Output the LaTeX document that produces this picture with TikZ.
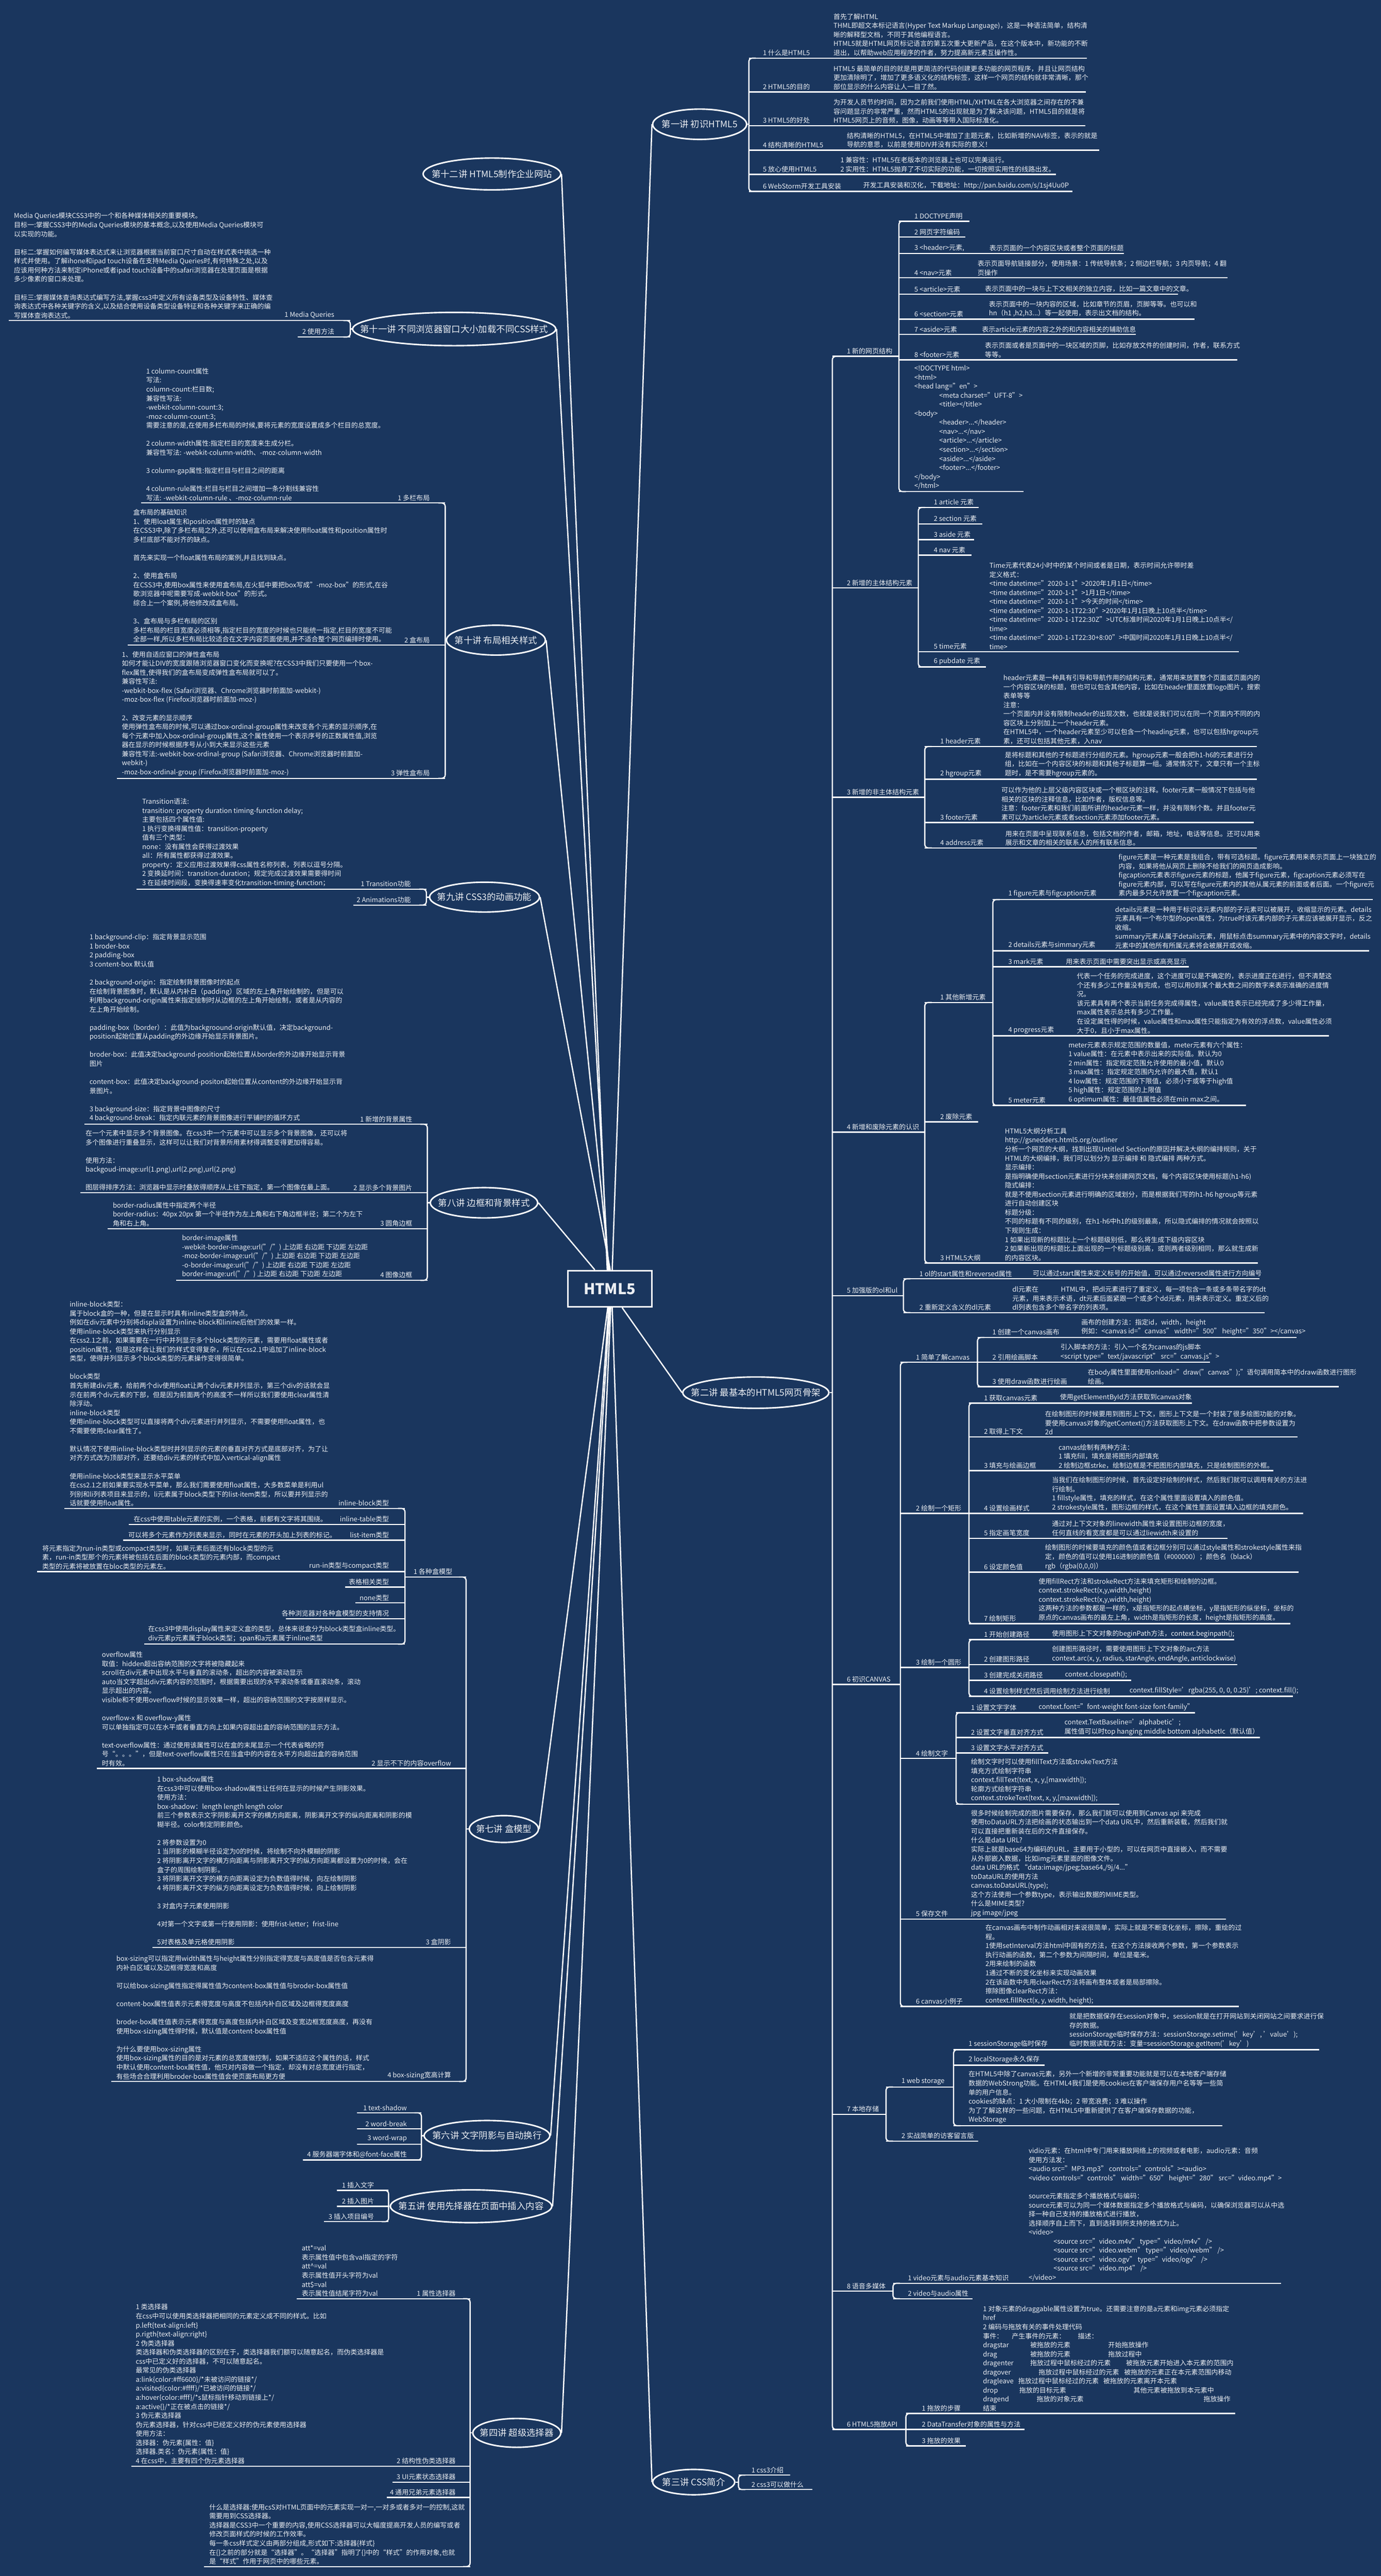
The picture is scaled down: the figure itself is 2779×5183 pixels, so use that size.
\documentclass[tikz,border=0pt]{standalone}
\usepackage{fontspec}
\setmainfont{Noto Sans CJK SC}
\usetikzlibrary{shapes.geometric}
\definecolor{bg}{RGB}{26,54,94}
\definecolor{txt}{RGB}{236,239,243}
\newcommand\fs{\fontsize{13.5}{18.2}\selectfont}
\newcommand\lecf{\fontsize{18}{22}\selectfont}
\newcounter{nid}
\newcommand\RL[5]{\stepcounter{nid}\node[anchor=south west] (n\thenid) at (#3,#2-4) {#4};\draw[ul] (#1,#2) -- (#5,#2);}
\newcommand\LL[5]{\stepcounter{nid}\node[anchor=south east] (n\thenid) at (#3,#2-4) {#4};\draw[ul] (#5,#2) -- (#1,#2);}
\newcommand\DT[3]{\stepcounter{nid}\node[det] (n\thenid) at (#1,#2-4) {#3};}
\newcommand\RB[3]{\draw[ul,rounded corners=7pt] (#1+14,#2) -- (#1,#2) -- (#1,#3) -- (#1+14,#3);}
\newcommand\LB[3]{\draw[ul,rounded corners=7pt] (#1-14,#2) -- (#1,#2) -- (#1,#3) -- (#1-14,#3);}
\newcommand\LEC[6]{\node[lec,minimum width=#4pt,minimum height=#5pt] (#1) at (#2,#3) {};\node[font=\lecf] at (#1) {#6};}
\newcommand\BL{\\[18.2pt]}
\tikzset{
  every node/.style={text=txt,inner sep=0pt,font=\fs},
  det/.style={align=left,anchor=south west},
  ul/.style={draw=white,line width=2.5pt},
  conn/.style={draw=white,line width=2.6pt},
  lec/.style={ellipse,draw=white,line width=3pt},
}
\begin{document}
\begin{tikzpicture}[x=1pt,y=-1pt]
\fill[bg] (0,0) rectangle (2779,5183);
\useasboundingbox (0,0) rectangle (2779,5183);

% centre
\node[draw=white,line width=3pt,minimum width=169pt,minimum height=73pt,font=\bfseries\fontsize{30}{34}\selectfont] (H) at (1227,2593) {HTML5};

% lectures
\LEC{L1}{1408}{250}{189}{61}{第一讲 初识HTML5}
\LEC{L2}{1521}{2802}{294}{63}{第二讲 最基本的HTML5网页骨架}
\LEC{L3}{1396}{4994}{165}{51}{第三讲 CSS简介}
\LEC{L12}{990}{350}{277}{64}{第十二讲 HTML5制作企业网站}
\LEC{L11}{914}{662}{409}{67}{第十一讲 不同浏览器窗口大小加载不同CSS样式}
\LEC{L10}{998}{1288}{199}{60}{第十讲 布局相关样式}
\LEC{L9}{975}{1805}{221}{60}{第九讲 CSS3的动画功能}
\LEC{L8}{974}{2420}{216}{61}{第八讲 边框和背景样式}
\LEC{L7}{1014}{3680}{139}{54}{第七讲 盒模型}
\LEC{L6}{980}{4297}{253}{61}{第六讲 文字阴影与自动换行}
\LEC{L5}{948}{4439}{325}{66}{第五讲 使用先择器在页面中插入内容}
\LEC{L4}{1040}{4895}{177}{58}{第四讲 超级选择器}

% main connectors
\draw[conn] ([xshift=-5pt]H.north) -- (L12.east);
\draw[conn] ([xshift=-3pt]H.north) -- (L11.east);
\draw[conn] ([xshift=-1pt]H.north) -- (L10.east);
\draw[conn] ([xshift=1pt]H.north) -- (L9.east);
\draw[conn] ([xshift=-30pt]H.north) -- (L8.east);
\draw[conn] ([xshift=5pt]H.north) -- (L1.west);
\draw[conn] ([xshift=25pt]H.south) -- (L2.west);
\draw[conn] ([xshift=-4pt]H.south) -- (L7.east);
\draw[conn] ([xshift=-2pt]H.south) -- (L6.east);
\draw[conn] ([xshift=0pt]H.south) -- (L5.east);
\draw[conn] ([xshift=2pt]H.south) -- (L4.east);
\draw[conn] ([xshift=5pt]H.south) -- (L3.west);

%================ 第一讲
\RB{1507}{117}{385}
\draw[ul] (L1.east) -- (1507,250);
\RL{1507}{117}{1535}{1 什么是HTML5}{2187}
\DT{1677}{117}{首先了解HTML\\THML即超文本标记语言(Hyper Text Markup Language)，这是一种语法简单，结构清\\晰的解释型文档，不同于其他编程语言。\\HTML5就是HTML网页标记语言的第五次重大更新产品，在这个版本中，新功能的不断\\退出，以帮助web应用程序的作者，努力提高新元素互操作性。}
\RL{1507}{185}{1535}{2 HTML5的目的}{2185}
\DT{1677}{185}{HTML5 最简单的目的就是用更简洁的代码创建更多功能的网页程序，并且让网页结构\\更加清除明了，增加了更多语义化的结构标签，这样一个网页的结构就非常清晰，那个\\部位显示的什么内容让人一目了然。}
\RL{1507}{253}{1535}{3 HTML5的好处}{2184}
\DT{1677}{253}{为开发人员节约时间，因为之前我们使用HTML/XHTML在各大浏览器之间存在的不兼\\容问题显示的非常严重，然而HTML5的出现就是为了解决该问题，HTML5目的就是将\\HTML5网页上的音频，图像，动画等等带入国际标准化。}
\RL{1507}{302}{1535}{4 结构清晰的HTML5}{2212}
\DT{1704}{302}{结构清晰的HTML5，在HTML5中增加了主题元素，比如新增的NAV标签，表示的就是\\导航的意思，以前是使用DIV并没有实际的意义！}
\RL{1507}{351}{1535}{5 放心使用HTML5}{2125}
\DT{1691}{351}{1 兼容性：HTML5在老版本的浏览器上也可以完美运行。\\2 实用性：HTML5抛弃了不切实际的功能，一切按照实用性的线路出发。}
\RL{1507}{385}{1535}{6 WebStorm开发工具安装}{2158}
\DT{1737}{385}{开发工具安装和汉化，下载地址：http://pan.baidu.com/s/1sj4Uu0P}

%================ 第二讲
\RB{1675}{717}{4888}
\draw[ul] (L2.east) -- (1675,2802);
% 1
\RL{1675}{717}{1704}{1 新的网页结构}{1809}
\RB{1809}{445}{989}
\RL{1809}{445}{1840}{1 DOCTYPE声明}{1951}
\RL{1809}{477}{1840}{2 网页字符编码}{1943}
\RL{1809}{510}{1840}{3 <header>元素,}{2262}
\DT{1991}{510}{表示页面的一个内容区块或者整个页面的标题}
\RL{1809}{559}{1840}{4 <nav>元素}{2470}
\DT{1967}{559}{表示页面导航链接部分，使用场景：1 传统导航条；2 侧边栏导航；3 内页导航；4 翻\\页操作}
\RL{1809}{592}{1840}{5 <article>元素}{2371}
\DT{1982}{592}{表示页面中的一块与上下文相关的独立内容，比如一篇文章中的文章。}
\RL{1809}{642}{1840}{6 <section>元素}{2404}
\DT{1990}{642}{表示页面中的一块内容的区域，比如章节的页眉，页脚等等。也可以和\\hn（h1 ,h2,h3...）等一起使用，表示出文档的结构。}
\RL{1809}{673}{1840}{7 <aside>元素}{2286}
\DT{1976}{673}{表示article元素的内容之外的和内容相关的辅助信息}
\RL{1809}{724}{1840}{8 <footer>元素}{2490}
\DT{1982}{724}{表示页面或者是页面中的一块区域的页脚，比如存放文件的创建时间，作者，联系方式\\等等。}
\draw[ul] (1809,989) -- (2060,989);
\DT{1840}{989}{<!DOCTYPE html>\\<html>\\<head lang="en">\\\hspace*{50pt}<meta charset="UFT-8">\\\hspace*{50pt}<title></title>\\<body>\\\hspace*{50pt}<header>...</header>\\\hspace*{50pt}<nav>...</nav>\\\hspace*{50pt}<article>...</article>\\\hspace*{50pt}<section>...</section>\\\hspace*{50pt}<aside>...</aside>\\\hspace*{50pt}<footer>...</footer>\\</body>\\</html>}
% 2
\RL{1675}{1183}{1704}{2 新增的主体结构元素}{1848}
\RB{1848}{1021}{1342}
\RL{1848}{1021}{1879}{1 article 元素}{1970}
\RL{1848}{1054}{1879}{2 section 元素}{1977}
\RL{1848}{1086}{1879}{3 aside 元素}{1960}
\RL{1848}{1117}{1879}{4 nav 元素}{1955}
\RL{1848}{1311}{1879}{5 time元素}{2493}
\DT{1991}{1311}{Time元素代表24小时中的某个时间或者是日期，表示时间允许带时差\\定义格式：\\<time datetime="2020-1-1">2020年1月1日</time>\\<time datetime="2020-1-1">1月1日</time>\\<time datetime="2020-1-1">今天的时间</time>\\<time datetime="2020-1-1T22:30">2020年1月1日晚上10点半</time>\\<time datetime="2020-1-1T22:30Z">UTC标准时间2020年1月1日晚上10点半</\\time>\\<time datetime="2020-1-1T22:30+8:00">中国时间2020年1月1日晚上10点半</\\time>}
\RL{1848}{1342}{1879}{6 pubdate 元素}{1984}
% 3
\RL{1675}{1604}{1704}{3 新增的非主体结构元素}{1861}
\RB{1861}{1502}{1706}
\RL{1861}{1502}{1892}{1 header元素}{2529}
\DT{2019}{1502}{header元素是一种具有引导和导航作用的结构元素，通常用来放置整个页面或页面内的\\一个内容区块的标题，但也可以包含其他内容，比如在header里面放置logo图片，搜索\\表单等等\\注意：\\一个页面内并没有限制header的出现次数，也就是说我们可以在同一个页面内不同的内\\容区块上分别加上一个header元素。\\在HTML5中，一个header元素至少可以包含一个heading元素，也可以包括hrgroup元\\素，还可以包括其他元素，入nav}
\RL{1861}{1568}{1892}{2 hgroup元素}{2529}
\DT{2022}{1568}{是将标题和其他的子标题进行分组的元素。hgroup元素一般会把h1-h6的元素进行分\\组，比如在一个内容区块的标题和其他子标题算一组。通常情况下，文章只有一个主标\\题时，是不需要hgroup元素的。}
\RL{1861}{1655}{1892}{3 footer元素}{2523}
\DT{2015}{1655}{可以作为他的上层父级内容区块或一个根区块的注释。footer元素一般情况下包括与他\\相关的区块的注释信息，比如作者，版权信息等。\\注意：footer元素和我们前面所讲的header元素一样，并没有限制个数。并且footer元\\素可以为article元素或者section元素添加footer元素。}
\RL{1861}{1706}{1892}{4 address元素}{2529}
\DT{2023}{1706}{用来在页面中呈现联系信息，包括文档的作者，邮箱，地址，电话等信息。还可以用来\\展示和文章的相关的联系人的所有联系信息。}
% 4
\RL{1675}{2278}{1704}{4 新增和废除元素的认识}{1861}
\RB{1861}{2017}{2541}
\RL{1861}{2017}{1892}{1 其他新增元素}{1998}
\RB{1998}{1810}{2224}
\RL{1998}{1810}{2029}{1 figure元素与figcaption元素}{2762}
\DT{2251}{1810}{figure元素是一种元素是我组合，带有可选标题。figure元素用来表示页面上一块独立的\\内容，如果将他从网页上删除不给我们的网页造成影响。\\figcaption元素表示figure元素的标题，他属于figure元素，figcaption元素必须写在\\figure元素内部，可以写在figure元素内的其他从属元素的前面或者后面。一个figure元\\素内最多只允许放置一个figcaption元素。}
\RL{1998}{1913}{2029}{2 details元素与simmary元素}{2755}
\DT{2244}{1913}{details元素是一种用于标识该元素内部的子元素可以被展开，收缩显示的元素。details\\元素具有一个布尔型的open属性，为true时该元素内部的子元素应该被展开显示，反之\\收缩。\\summary元素从属于details元素，用鼠标点击summary元素中的内容文字时，details\\元素中的其他所有所属元素将会被展开或收缩。}
\RL{1998}{1945}{2029}{3 mark元素}{2392}
\DT{2145}{1945}{用来表示页面中需要突出显示或高亮显示}
\RL{1998}{2084}{2029}{4 progress元素}{2674}
\DT{2167}{2084}{代表一个任务的完成进度，这个进度可以是不确定的，表示进度正在进行，但不清楚这\\个还有多少工作量没有完成，也可以用0到某个最大数之间的数字来表示准确的进度情\\况。\\该元素具有两个表示当前任务完成得属性，value属性表示已经完成了多少得工作量，\\max属性表示总共有多少工作量。\\在设定属性得的时候，value属性和max属性只能指定为有效的浮点数，value属性必须\\大于0，且小于max属性。}
\RL{1998}{2224}{2029}{5 meter元素}{2507}
\DT{2150}{2224}{meter元素表示规定范围的数量值，meter元素有六个属性：\\1 value属性：在元素中表示出来的实际值。默认为0\\2 min属性：指定规定范围允许使用的最小值，默认0\\3 max属性：指定规定范围内允许的最大值，默认1\\4 low属性：规定范围的下限值，必须小于或等于high值\\5 high属性：规定范围的上限值\\6 optimum属性：最佳值属性必须在min max之间。}
\RL{1861}{2257}{1892}{2 废除元素}{1968}
\RL{1861}{2541}{1892}{3 HTML5大纲}{2531}
\DT{2022}{2541}{HTML5大纲分析工具\\http://gsnedders.html5.org/outliner\\分析一个网页的大纲，找到出现Untitled Section的原因并解决大纲的编排规则，关于\\HTML的大纲编排，我们可以划分为 显示编排 和 隐式编排 两种方式。\\显示编排：\\是指明确使用section元素进行分块来创建网页文档，每个内容区块使用标题(h1-h6)\\隐式编排：\\就是不使用section元素进行明确的区域划分，而是根据我们写的h1-h6 hgroup等元素\\进行自动创建区块\\标题分级：\\不同的标题有不同的级别，在h1-h6中h1的级别最高，所以隐式编排的情况就会按照以\\下规则生成：\\1 如果出现新的标题比上一个标题级别低，那么将生成下级内容区块\\2 如果新出现的标题比上面出现的一个标题级别高，或则两者级别相同，那么就生成新\\的内容区块。}
% 5
\RL{1675}{2607}{1704}{5 加强版的ol和ul}{1818}
\RB{1818}{2573}{2641}
\RL{1818}{2573}{1850}{1 ol的start属性和reversed属性}{2534}
\DT{2078}{2573}{可以通过start属性来定义标号的开始值，可以通过reversed属性进行方向编号}
\RL{1818}{2641}{1850}{2 重新定义含义的dl元素}{2545}
\DT{2037}{2641}{dl元素在\hspace*{45pt}HTML中，把dl元素进行了重定义，每一项包含一条或多条带名字的dt\\元素，用来表示术语，dt元素后面紧跟一个或多个dd元素，用来表示定义。重定义后的\\dl列表包含多个带名字的列表项。}
% 6 canvas
\RL{1675}{3389}{1704}{6 初识CANVAS}{1812}
\RB{1812}{2741}{4037}
\RL{1812}{2741}{1843}{1 简单了解canvas}{1967}
\RB{1967}{2691}{2790}
\RL{1967}{2691}{1997}{1 创建一个canvas画布}{2609}
\DT{2176}{2691}{画布的创建方法：指定id，width，height\\例如：<canvas id="canvas" width="500" height="350"></canvas>}
\RL{1967}{2741}{1997}{2 引用绘画脚本}{2435}
\DT{2134}{2741}{引入脚本的方法：引入一个名为canvas的js脚本\\<script type="text/javascript" src="canvas.js">}
\RL{1967}{2790}{1997}{3 使用draw函数进行绘画}{2694}
\DT{2189}{2790}{在body属性里面使用onload="draw("canvas");"语句调用简本中的draw函数进行图形\\绘画。}
\RL{1812}{3045}{1843}{2 绘制一个矩形}{1950}
\RB{1950}{2823}{3267}
\RL{1950}{2823}{1980}{1 获取canvas元素}{2399}
\DT{2133}{2823}{使用getElementById方法获取到canvas对象}
\RL{1950}{2891}{1980}{2 取得上下文}{2611}
\DT{2103}{2891}{在绘制图形的时候要用到图形上下文，图形上下文是一个封装了很多绘图功能的对象。\\要使用canvas对象的getContext()方法获取图形上下文。在draw函数中把参数设置为\\2d}
\RL{1950}{2959}{1980}{3 填充与绘画边框}{2562}
\DT{2130}{2959}{canvas绘制有两种方法：\\1 填充fill，填充是将图形内部填充\\2 绘制边框strke，绘制边框是不把图形内部填充，只是绘制图形的外框。}
\RL{1950}{3045}{1980}{4 设置绘画样式}{2623}
\DT{2117}{3045}{当我们在绘制图形的时候，首先设定好绘制的样式，然后我们就可以调用有关的方法进\\行绘制。\\1 fillstyle属性，填充的样式，在这个属性里面设置填入的颜色值。\\2 strokestyle属性，图形边框的样式，在这个属性里面设置填入边框的填充颜色。}
\RL{1950}{3095}{1980}{5 指定画笔宽度}{2470}
\DT{2117}{3095}{通过对上下文对象的linewidth属性来设置图形边框的宽度，\\任何直线的看宽度都是可以通过liewidth来设置的}
\RL{1950}{3163}{1980}{6 设定颜色值}{2613}
\DT{2103}{3163}{绘制图形的时候要填充的颜色值或者边框分别可以通过style属性和strokestyle属性来指\\定，颜色的值可以使用16进制的颜色值（\#000000）；颜色名（black）\\rgb（rgba(0,0,0)）}
\RL{1950}{3267}{1980}{7 绘制矩形}{2597}
\DT{2090}{3267}{使用fillRect方法和strokeRect方法来填充矩形和绘制的边框。\\context.strokeRect(x,y,width,height)\\context.strokeRect(x,y,width,height)\\这两种方法的参数都是一样的，x是指矩形的起点横坐标，y是指矩形的纵坐标，坐标的\\原点的canvas画布的最左上角，width是指矩形的长度，height是指矩形的高度。}
\RL{1812}{3355}{1843}{3 绘制一个圆形}{1950}
\RB{1950}{3299}{3413}
\RL{1950}{3299}{1980}{1 开始创建路径}{2484}
\DT{2117}{3299}{使用图形上下文对象的beginPath方法，context.beginpath();}
\RL{1950}{3349}{1980}{2 创建图形路径}{2490}
\DT{2117}{3349}{创建图形路径时，需要使用图形上下文对象的arc方法\\context.arc(x, y, radius, starAngle, endAngle, anticlockwise)}
\RL{1950}{3381}{1980}{3 创建完成关闭路径}{2276}
\DT{2143}{3381}{context.closepath();}
\RL{1950}{3413}{1980}{4 设置绘制样式然后调用绘制方法进行绘制}{2602}
\DT{2273}{3413}{context.fillStyle='rgba(255, 0, 0, 0.25)'; context.fill();}
\RL{1812}{3538}{1843}{4 绘制文字}{1924}
\RB{1924}{3446}{3630}
\RL{1924}{3446}{1954}{1 设置文字字体}{2405}
\DT{2090}{3446}{context.font="font-weight font-size font-family"}
\RL{1924}{3496}{1954}{2 设置文字垂直对齐方式}{2536}
\DT{2142}{3496}{context.TextBaseline='alphabetic';\\属性值可以时top hanging middle bottom alphabetIc（默认值）}
\RL{1924}{3527}{1954}{3 设置文字水平对齐方式}{2109}
\draw[ul] (1924,3630) -- (2253,3630);
\DT{1954}{3630}{绘制文字时可以使用fillText方法或strokeText方法\\填充方式绘制字符串\\context.fillText(text, x, y,[maxwidth]);\\轮廓方式绘制字符串\\context.strokeText(text, x, y,[maxwidth]);}
\RL{1812}{3861}{1843}{5 保存文件}{2467}
\DT{1954}{3861}{很多时候绘制完成的图片需要保存，那么我们就可以使用到Canvas api 来完成\\使用toDataURL方法把绘画的状态输出到一个data URL中，然后重新装载，然后我们就\\可以直接把重新装在后的文件直接保存。\\什么是data URL?\\实际上就是base64为编码的URL，主要用于小型的，可以在网页中直接嵌入，而不需要\\从外部嵌入数据，比如img元素里面的图像文件。\\data URL的格式 “data:image/jpeg;base64,/9j/4...”\\toDataURL的使用方法\\canvas.toDataURL(type);\\这个方法使用一个参数type，表示输出数据的MIME类型。\\什么是MIME类型?\\jpg image/jpeg}
\RL{1812}{4037}{1843}{6 canvas小例子}{2493}
\DT{1983}{4037}{在canvas画布中制作动画相对来说很简单，实际上就是不断变化坐标，擦除，重绘的过\\程。\\1使用setInterval方法html中固有的方法，在这个方法接收两个参数，第一个参数表示\\执行动画的函数，第二个参数为间隔时间，单位是毫米。\\2用来绘制的函数\\1通过不断的变化坐标来实现动画效果\\2在该函数中先用clearRect方法将画布整体或者是局部擦除。\\擦除图像clearRect方法：\\context.fillRect(x, y, width, height);}
% 7
\RL{1675}{4254}{1704}{7 本地存储}{1783}
\RB{1783}{4199}{4308}
\RL{1783}{4199}{1814}{1 web storage}{1919}
\RB{1919}{4124}{4277}
\RL{1919}{4124}{1949}{1 sessionStorage临时保存}{2655}
\DT{2152}{4124}{就是把数据保存在session对象中，session就是在打开网站到关闭网站之间要求进行保\\存的数据。\\sessionStorage临时保存方法：sessionStorage.setime('key', 'value');\\临时数据读取方法：变量=sessionStorage.getItem('key')}
\RL{1919}{4155}{1949}{2 localStorage永久保存}{2102}
\draw[ul] (1919,4277) -- (2460,4277);
\DT{1949}{4277}{在HTML5中除了canvas元素，另外一个新增的非常重要功能就是可以在本地客户端存储\\数据的WebStrong功能。在HTML4我们是使用cookies在客户端保存用户名等等一些简\\单的用户信息。\\cookies的缺点：1 大小限制在4kb；2 带宽浪费；3 难以操作\\为了了解这样的一些问题，在HTML5中重新提供了在客户端保存数据的功能，\\WebStorage}
\RL{1783}{4308}{1814}{2 实战简单的访客留言版}{1968}
% 8
\RL{1675}{4610}{1704}{8 语音多媒体}{1797}
\RB{1797}{4594}{4625}
\RL{1797}{4594}{1827}{1 video元素与audio元素基本知识}{2578}
\DT{2070}{4594}{vidio元素：在html中专门用来播放网络上的视频或者电影，audio元素：音频\\使用方法发：\\<audio src="MP3.mp3" controls="controls"><audio>\\<video controls="controls" width="650" height="280" src="video.mp4">\BL source元素指定多个播放格式与编码：\\source元素可以为同一个媒体数据指定多个播放格式与编码，以确保浏览器可以从中选\\择一种自己支持的播放格式进行播放，\\选择顺序自上而下，直到选择到所支持的格式为止。\\<video>\\\hspace*{50pt}<source src="video.m4v" type="video/m4v" />\\\hspace*{50pt}<source src="video.webm" type="video/webm" />\\\hspace*{50pt}<source src="video.ogv" type="video/ogv" />\\\hspace*{50pt}<source src="video.mp4" />\\</video>}
\RL{1797}{4625}{1827}{2 video与audio属性}{1957}
% 6 drag
\RL{1675}{4888}{1704}{6 HTML5拖放API}{1823}
\RB{1823}{4856}{4921}
\RL{1823}{4856}{1855}{1 拖放的步骤}{2486}
\DT{1978}{4856}{1 对象元素的draggable属性设置为true。还需要注意的是a元素和img元素必须指定\\href\\2 编码与拖放有关的事件处理代码\\\makebox[58pt][l]{事件：}\makebox[133pt][l]{产生事件的元素：}描述：\\\makebox[95pt][l]{dragstar}\makebox[157pt][l]{被拖放的元素}开始拖放操作\\\makebox[95pt][l]{drag}\makebox[157pt][l]{被拖放的元素}拖放过程中\\\makebox[95pt][l]{dragenter}\makebox[193pt][l]{拖放过程中鼠标经过的元素}被拖放元素开始进入本元素的范围内\\\makebox[112pt][l]{dragover}\makebox[172pt][l]{拖放过程中鼠标经过的元素}被拖放的元素正在本元素范围内移动\\\makebox[71pt][l]{dragleave}\makebox[171pt][l]{拖放过程中鼠标经过的元素}被拖放的元素离开本元素\\\makebox[73pt][l]{drop}\makebox[230pt][l]{拖放的目标元素}其他元素被拖放到本元素中\\\makebox[108pt][l]{dragend}\makebox[336pt][l]{拖放的对象元素}拖放操作\\结束}
\RL{1823}{4888}{1855}{2 DataTransfer对象的属性与方法}{2062}
\RL{1823}{4921}{1855}{3 拖放的效果}{1944}

%================ 第三讲
\RB{1486}{4980}{5009}
\draw[ul] (L3.east) -- (1486,4994);
\RL{1486}{4980}{1512}{1 css3介绍}{1590}
\RL{1486}{5009}{1512}{2 css3可以做什么}{1635}

%================ 第十一讲
\LB{705}{645}{678}
\draw[ul] (L11.west) -- (705,662);
\LL{705}{645}{673}{1 Media Queries}{18}
\DT{28}{645}{Media Queries模块CSS3中的一个和各种媒体相关的重要模块。\\目标一:掌握CSS3中的Media Queries模块的基本概念,以及使用Media Queries模块可\\以实现的功能。\BL 目标二:掌握如何编写媒体表达式来让浏览器根据当前窗口尺寸自动在样式表中挑选一种\\样式并使用。了解ihone和ipad touch设备在支持Media Queries时,有何特殊之处,以及\\应该用何种方法来制定iPhone或者ipad touch设备中的safari浏览器在处理页面是根据\\多少像素的窗口来处理。\BL 目标三:掌握媒体查询表达式编写方法,掌握css3中定义所有设备类型及设备特性、媒体查\\询表达式中各种关键字的含义,以及结合使用设备类型设备特征和各种关键字来正确的编\\写媒体查询表达式。}
\LL{705}{678}{673}{2 使用方法}{599}

%================ 第十讲
\LB{896}{1012}{1566}
\draw[ul] (L10.west) -- (896,1288);
\LL{896}{1012}{865}{1 多栏布局}{284}
\DT{294}{1012}{1 column-count属性\\写法:\\column-count:栏目数;\\兼容性写法:\\-webkit-column-count:3;\\-moz-column-count:3;\\需要注意的是,在使用多栏布局的时候,要将元素的宽度设置成多个栏目的总宽度。\BL 2 column-width属性:指定栏目的宽度来生成分栏。\\兼容性写法: -webkit-column-width、-moz-column-width\BL 3 column-gap属性:指定栏目与栏目之间的距离\BL 4 column-rule属性:栏目与栏目之间增加一条分割线兼容性\\写法: -webkit-column-rule 、-moz-column-rule}
\LL{896}{1298}{865}{2 盒布局}{257}
\DT{268}{1298}{盒布局的基础知识\\1、使用loat属生和position属性时的缺点\\在CSS3中,除了多栏布局之外,还可以使用盒布局来解决使用float属性和position属性时\\多栏底部不能对齐的缺点。\BL 首先来实现一个float属性布局的案例,并且找到缺点。\BL 2、使用盒布局\\在CSS3中,使用box属性来使用盒布局,在火狐中要把box写成"-moz-box”的形式,在谷\\歌浏览器中呢需要写成-webkit-box"的形式。\\综合上一个案例,将他修改成盒布局。\BL 3、盒布局与多栏布局的区别\\多栏布局的栏目宽度必须相等,指定栏目的宽度的时候也只能统一指定,栏目的宽度不可能\\全部一样,所以多栏布局比较适合在文字内容页面使用,并不适合整个网页编排时使用。}
\LL{896}{1566}{865}{3 弹性盒布局}{235}
\DT{245}{1566}{1、使用自适应窗口的弹性盒布局\\如何才能让DIV的宽度跟随浏览器窗口变化而变换呢?在CSS3中我们只要使用一个box-\\flex属性,使得我们的盒布局变成弹性盒布局就可以了。\\兼容性写法:\\-webkit-box-flex (Safari浏览器、Chrome浏览器时前面加-webkit-)\\-moz-box-flex (Firefox浏览器时前面加-moz-)\BL 2、改变元素的显示顺序\\使用弹性盒布局的时候,可以通过box-ordinal-group属性来改变各个元素的显示顺序,在\\每个元素中加入box-ordinal-group属性,这个属性使用一个表示序号的正数属性值,浏览\\器在显示的时候根据序号从小到大来显示这些元素\\兼容性写法:-webkit-box-ordinal-group (Safari浏览器、Chrome浏览器时前面加-\\webkit-)\\-moz-box-ordinal-group (Firefox浏览器时前面加-moz-)}

%================ 第九讲
\LB{858}{1789}{1821}
\draw[ul] (L9.west) -- (858,1805);
\LL{858}{1789}{827}{1 Transition功能}{275}
\DT{286}{1789}{Transition语法:\\transition: property duration timing-function delay;\\主要包括四个属性值:\\1 执行变换得属性值：transition-property\\值有三个类型：\\none：没有属性会获得过渡效果\\all：所有属性都获得过渡效果。\\property：定义应用过渡效果得css属性名称列表，列表以逗号分隔。\\2 变换延时间：transition-duration；规定完成过渡效果需要得时间\\3 在延续时间段，变换得速率变化transition-timing-function；}
\LL{858}{1821}{827}{2 Animations功能}{711}

%================ 第八讲
\LB{860}{2262}{2576}
\draw[ul] (L8.west) -- (860,2420);
\LL{860}{2262}{830}{1 新增的背景属性}{170}
\DT{180}{2262}{1 background-clip：指定背景显示范围\\1 broder-box\\2 padding-box\\3 content-box 默认值\BL 2 background-origin：指定绘制背景图像时的起点\\在绘制背景图像时，默认是从内补白（padding）区域的左上角开始绘制的，但是可以\\利用background-origin属性来指定绘制时从边框的左上角开始绘制，或者是从内容的\\左上角开始绘制。\BL padding-box（border）：此值为backgroound-origin默认值，决定background-\\position起始位置从padding的外边缘开始显示背景图片。\BL broder-box：此值决定background-position起始位置从border的外边缘开始显示背景\\图片\BL content-box：此值决定background-positon起始位置从content的外边缘开始显示背\\景图片。\BL 3 background-size：指定背景中图像的尺寸\\4 background-break：指定内联元素的背景图像进行平铺时的循环方式}
\LL{860}{2400}{830}{2 显示多个背景图片}{162}
\DT{172}{2400}{在一个元素中显示多个背景图像。在css3中一个元素中可以显示多个背景图像，还可以将\\多个图像进行重叠显示，这样可以让我们对背景所用素材得调整变得更加得容易。\BL 使用方法：\\backgoud-image:url(1.png),url(2.png),url(2.png)\BL 图层得排序方法：浏览器中显示时叠放得顺序从上往下指定，第一个图像在最上面。}
\LL{860}{2472}{830}{3 圆角边框}{217}
\DT{227}{2472}{border-radius属性中指定两个半径\\border-radius：40px 20px 第一个半径作为左上角和右下角边框半径；第二个为左下\\角和右上角。}
\LL{860}{2576}{830}{4 图像边框}{355}
\DT{366}{2576}{border-image属性\\-webkit-border-image:url("/") 上边距 右边距 下边距 左边距\\-moz-border-image:url("/") 上边距 右边距 下边距 左边距\\-o-border-image:url("/") 上边距 右边距 下边距 左边距\\border-image:url("/") 上边距 右边距 下边距 左边距}

%================ 第七讲
\LB{938}{3173}{4188}
\draw[ul] (L7.west) -- (938,3680);
\RL{815}{3173}{832}{1 各种盒模型}{938}
\LB{815}{3035}{3308}
\LL{815}{3035}{783}{inline-block类型}{130}
\DT{140}{3035}{inline-block类型：\\属于block盒的一种，但是在显示时具有inline类型盒的特点。\\例如在div元素中分别将displa设置为inline-block和linine后他们的效果一样。\\使用inline-block类型来执行分别显示\\在css2.1之前，如果需要在一行中并列显示多个block类型的元素，需要用float属性或者\\position属性，但是这样会让我们的样式变得复杂，所以在css2.1中追加了inline-block\\类型，使得并列显示多个block类型的元素操作变得很简单。\BL block类型\\首先新建div元素，给前两个div使用float让两个div元素并列显示，第三个div的话就会显\\示在前两个div元素的下部，但是因为前面两个的高度不一样所以我们要使用clear属性清\\除浮动。\\inline-block类型\\使用inline-block类型可以直接将两个div元素进行并列显示，不需要使用float属性，也\\不需要使用clear属性了。\BL 默认情况下使用inline-block类型时并列显示的元素的垂直对齐方式是底部对齐，为了让\\对齐方式改为顶部对齐，还要给div元素的样式中加入vertical-align属性\BL 使用inline-block类型来显示水平菜单\\在css2.1之前如果要实现水平菜单，那么我们需要使用float属性，大多数菜单是利用ul\\列别和li列表项目来显示的，li元素属于block类型下的list-item类型，所以要并列显示的\\话就要使用float属性。}
\LL{815}{3067}{783}{inline-table类型}{259}
\DT{269}{3067}{在css中使用table元素的实例，一个表格，前都有文字将其围绕。}
\LL{815}{3099}{783}{list-item类型}{248}
\DT{258}{3099}{可以将多个元素作为列表来显示，同时在元素的开头加上列表的标记。}
\LL{815}{3162}{783}{run-in类型与compact类型}{75}
\DT{85}{3162}{将元素指定为run-in类型或compact类型时，如果元素后面还有block类型的元\\素，run-in类型那个的元素将被包括在后面的block类型的元素内部，而compact\\类型的元素将被放置在bloc类型的元素左。}
\LL{815}{3193}{783}{表格相关类型}{695}
\LL{815}{3225}{783}{none类型}{715}
\LL{815}{3257}{783}{各种浏览器对各种盒模型的支持情况}{575}
\draw[ul] (290,3308) -- (815,3308);
\DT{298}{3308}{在css3中使用display属性来定义盒的类型，总体来说盒分为block类型盒inline类型。\\div元素p元素属于block类型；span和a元素属于inline类型}
\LL{938}{3558}{908}{2 显示不下的内容overflow}{195}
\DT{205}{3558}{overflow属性\\取值：hidden超出容纳范围的文字将被隐藏起来\\scroll在div元素中出现水平与垂直的滚动条，超出的内容被滚动显示\\auto当文字超出div元素内容的范围时，根据需要出现的水平滚动条或垂直滚动条，滚动\\显示超出的内容。\\visible和不使用overflow时候的显示效果一样，超出的容纳范围的文字按原样显示。\BL overflow-x 和 overflow-y属性\\可以单独指定可以在水平或者垂直方向上如果内容超出盒的容纳范围的显示方法。\BL text-overflow属性：通过使用该属性可以在盒的末尾显示一个代表省略的符\\号“。。。”，但是text-overflow属性只在当盒中的内容在水平方向超出盒的容纳范围\\时有效。}
\LL{938}{3918}{908}{3 盒阴影}{307}
\DT{316}{3918}{1 box-shadow属性\\在css3中可以使用box-shadow属性让任何在显示的时候产生阴影效果。\\使用方法：\\box-shadow：length length length color\\前三个参数表示文字阴影离开文字的横方向距离，阴影离开文字的纵向距离和阴影的模\\糊半径。color制定阴影颜色。\BL 2 将参数设置为0\\1 当阴影的模糊半径设定为0的时候，将绘制不向外模糊的阴影\\2 将阴影离开文字的横方向距离与阴影离开文字的纵方向距离都设置为0的时候，会在\\盒子的周围绘制阴影。\\3 将阴影离开文字的横方向距离设定为负数值得时候，向左绘制阴影\\4 将阴影离开文字的纵方向距离设定为负数值得时候，向上绘制阴影\BL 3 对盒内子元素使用阴影\BL 4对第一个文字或第一行使用阴影：使用frist-letter；frist-line\BL 5对表格及单元格使用阴影}
\LL{938}{4188}{908}{4 box-sizing宽高计算}{224}
\DT{234}{4188}{box-sizing可以指定用width属性与height属性分别指定得宽度与高度值是否包含元素得\\内补白区域以及边框得宽度和高度\BL 可以给box-sizing属性指定得属性值为content-box属性值与broder-box属性值\BL content-box属性值表示元素得宽度与高度不包括内补白区域及边框得宽度高度\BL broder-box属性值表示元素得宽度与高度包括内补白区域及变宽边框宽度高度，再没有\\使用box-sizing属性得时候，默认值是content-box属性值\BL 为什么要使用box-sizing属性\\使用box-sizing属性的目的是对元素的总宽度做控制，如果不适应这个属性的话，样式\\中默认使用content-box属性值，他只对内容做一个指定，却没有对总宽度进行指定，\\有些场合合理利用broder-box属性值会使页面布局更方便}

%================ 第六讲
\LB{848}{4251}{4346}
\draw[ul] (L6.west) -- (848,4297);
\LL{848}{4251}{819}{1 text-shadow}{718}
\LL{848}{4283}{819}{2 word-break}{718}
\LL{848}{4314}{819}{3 word-wrap}{718}
\LL{848}{4346}{819}{4 服务器端字体和@font-face属性}{609}

%================ 第五讲
\LB{782}{4407}{4470}
\draw[ul] (L5.west) -- (782,4439);
\LL{782}{4407}{753}{1 插入文字}{678}
\LL{782}{4439}{753}{2 插入图片}{678}
\LL{782}{4470}{753}{3 插入项目编号}{652}

%================ 第四讲
\LB{946}{4625}{5164}
\draw[ul] (L4.west) -- (946,4895);
\LL{946}{4625}{917}{1 属性选择器}{597}
\DT{607}{4625}{att*=val\\表示属性值中包含val指定的字符\\att\textasciicircum=val\\表示属性值开头字符为val\\att\$=val\\表示属性值结尾字符为val}
\LL{946}{4962}{917}{2 结构性伪类选择器}{264}
\DT{273}{4962}{1 类选择器\\在css中可以使用类选择器把相同的元素定义成不同的样式。比如\\p.left\{text-align:left\}\\p.rigth\{text-align:right\}\\2 伪类选择器\\类选择器和伪类选择器的区别在于，类选择器我们额可以随意起名，而伪类选择器是\\css中已定义好的选择器，不可以随意起名。\\最常见的伪类选择器\\a:link\{color:\#ff6600\}/*未被访问的链接*/\\a:visited\{color:\#ffff\}/*已被访问的链接*/\\a:hover\{color:\#fff\}/*s鼠标指针移动到链接上*/\\a:active\{\}/*正在被点击的链接*/\\3 伪元素选择器\\伪元素选择器，针对css中已经定义好的伪元素使用选择器\\使用方法：\\选择器：伪元素\{属性：值\}\\选择器.类名：伪元素\{属性：值\}\\4 在css中，主要有四个伪元素选择器}
\LL{946}{4994}{917}{3 UI元素状态选择器}{790}
\LL{946}{5025}{917}{4 通用兄弟元素选择器}{778}
\draw[ul] (411,5164) -- (946,5164);
\DT{421}{5164}{什么是选择器:使用csS对HTML页面中的元素实现一对一,一对多或者多对一的控制,这就\\需要用到CSS选择器。\\选择器是CSS3中一个重要的内容,使用CSS选择器可以大幅度提高开发人员的编写或者\\修改页面样式的时候的工作效率。\\每一条css样式定义由两部分组成,形式如下:选择器\{样式\}\\在\{\}之前的部分就是“选择器”。“选择器”指明了\{\}中的“样式”的作用对象,也就\\是“样式”作用于网页中的哪些元素。}
\end{tikzpicture}
\end{document}
